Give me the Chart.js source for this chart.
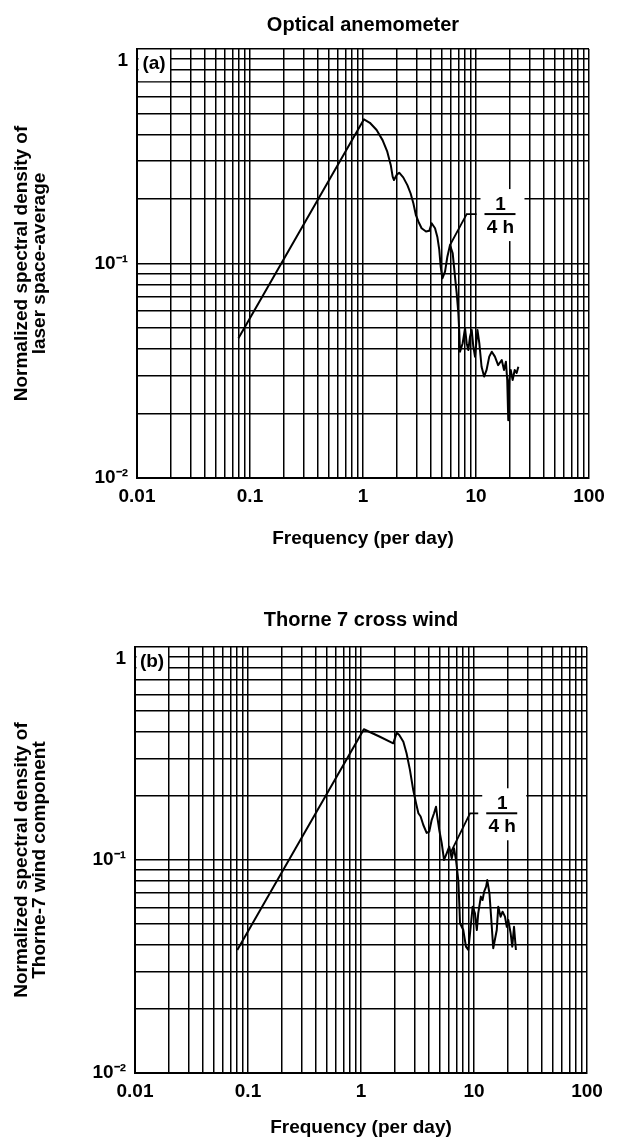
<!DOCTYPE html>
<html>
<head>
<meta charset="utf-8">
<title>Normalized spectral density</title>
<script src="https://cdn.jsdelivr.net/npm/chart.js@4.4.1/dist/chart.umd.min.js"></script>
<style>
  html, body { margin: 0; padding: 0; background: #fff; }
  canvas { display: block; }
</style>
</head>
<body>
<canvas id="panelA" width="619" height="550"></canvas>
<canvas id="panelB" width="619" height="587"></canvas>
<script>
// values: frequency (per day) and normalized spectral density
const freqA = [0.079, 1.02, 1.15, 1.32, 1.49, 1.64, 1.76, 1.83, 1.88, 1.99, 2.09, 2.27, 2.47, 2.64, 2.79, 2.94,
  3.09, 3.30, 3.61, 3.86, 4.05, 4.34, 4.55, 4.73, 4.87, 5.04, 5.32, 5.58, 5.89, 6.22, 6.39, 6.56, 6.75, 6.98,
  7.12, 7.22, 7.62, 8.0, 8.27, 8.55, 8.85, 9.16, 9.47, 9.80, 10.3, 10.7, 11.2, 11.8, 12.4, 13.1, 13.8, 14.7,
  15.7, 16.9, 17.7, 18.4, 18.9, 19.3, 19.7, 20.3, 21.1, 22.0, 22.9, 23.7];
const specA = [0.0448, 0.470, 0.453, 0.419, 0.376, 0.332, 0.288, 0.254, 0.245, 0.259, 0.265, 0.252, 0.232, 0.212, 0.191, 0.168,
  0.157, 0.146, 0.141, 0.142, 0.154, 0.146, 0.133, 0.116, 0.0966, 0.0853, 0.0916, 0.1076, 0.122, 0.1115, 0.0966, 0.0838, 0.0726, 0.0586,
  0.0473, 0.0388, 0.0425, 0.0499, 0.0425, 0.0395, 0.0456, 0.049, 0.041, 0.0368, 0.049, 0.0425, 0.033, 0.0297, 0.0319, 0.0368, 0.0388, 0.0368,
  0.0336, 0.0355, 0.0319, 0.0348, 0.0286, 0.0186, 0.0286, 0.0319, 0.0286, 0.0319, 0.0309, 0.033];

const freqB = [0.0804, 1.06, 1.47, 1.93, 2.07, 2.18, 2.37, 2.53, 2.71, 2.90, 3.07, 3.22, 3.37, 3.56, 3.81, 4.02,
  4.22, 4.43, 4.61, 4.73, 4.93, 5.18, 5.43, 5.73, 6.04, 6.35, 6.65, 6.93, 7.26, 7.41, 7.52, 8.04, 8.49, 8.91,
  9.22, 9.73, 10.2, 10.6, 10.9, 11.5, 11.9, 12.3, 12.8, 13.1, 13.7, 14.3, 14.8, 15.9, 16.4, 17.2, 17.9, 18.8,
  19.5, 20.1, 21.1, 21.8, 22.6, 23.5];
const specB = [0.0378, 0.411, 0.379, 0.353, 0.396, 0.386, 0.359, 0.317, 0.265, 0.213, 0.1846, 0.1657, 0.160, 0.146, 0.134, 0.136,
  0.154, 0.1657, 0.178, 0.160, 0.138, 0.120, 0.100, 0.1075, 0.1155, 0.102, 0.1135, 0.100, 0.0805, 0.0626, 0.0505, 0.0469, 0.0392, 0.0378,
  0.0453, 0.0604, 0.0562, 0.0469, 0.0562, 0.0673, 0.0649, 0.071, 0.075, 0.0805, 0.0698, 0.0505, 0.0385, 0.0469, 0.0604, 0.0542, 0.0572, 0.0542,
  0.0486, 0.0523, 0.0453, 0.0392, 0.0486, 0.0378];

// leader lines pointing at the 1/4 h (6 per day) frequency
const markFreqA = [5.89, 8.27, 10.1];
const markSpecA = [0.122, 0.170, 0.170];
const markFreqB = [6.2, 9.22, 10.9];
const markSpecB = [0.108, 0.1657, 0.1657];

// axes
const xMajor = [0.01, 0.1, 1, 10, 100];
const xTickLabels = ['0.01', '0.1', '1', '10', '100'];
const yMajor = [0.01, 0.1, 1];
const yTickLabels = ['10⁻²', '10⁻¹', ['', '1']];  // top label sits just under the frame line
const minorSteps = [1, 2, 3, 4, 5, 6, 7, 8, 9];

const FONT = "'Liberation Sans', Arial, sans-serif";
Chart.defaults.font.family = FONT;
Chart.defaults.color = '#000';

function gridValues(majors) {
  const out = [];
  for (let i = 0; i < majors.length - 1; i++) {
    minorSteps.forEach(m => out.push(m * majors[i]));
  }
  out.push(majors[majors.length - 1]);
  return out;
}

function labelFor(v, majors, labels) {
  const i = majors.findIndex(m => Math.abs(v / m - 1) < 1e-6);
  return i < 0 ? '' : labels[i];
}

const xGrid = gridValues(xMajor);
const yGrid = gridValues(yMajor);

// panel letter and the 1/4 h fraction, placed through the scales
const annotate = {
  id: 'annotate',
  beforeDatasetsDraw(chart, args, opts) {
    const { ctx, chartArea: a, scales: { x, y } } = chart;
    ctx.save();
    const bx = x.getPixelForValue(0.02);
    const by = y.getPixelForValue(0.7);
    ctx.fillStyle = '#fff';
    ctx.fillRect(a.left + 1.5, a.top + 1.5, bx - a.left - 2.5, by - a.top - 2.5);
    ctx.fillStyle = '#000';
    ctx.font = 'bold 19px ' + FONT;
    ctx.textAlign = 'center';
    ctx.textBaseline = 'middle';
    ctx.fillText(opts.letter, (a.left + bx) / 2, a.top + 15);

    const n = opts.markF.length - 1;
    const ex = x.getPixelForValue(opts.markF[n]);
    const ey = y.getPixelForValue(opts.markS[n]);
    ctx.fillStyle = '#fff';
    ctx.fillRect(ex + 4, ey - 25, 44, 52);
    ctx.strokeStyle = '#000';
    ctx.lineWidth = 2;
    ctx.beginPath();
    ctx.moveTo(ex + 8, ey);
    ctx.lineTo(ex + 39, ey);
    ctx.stroke();
    ctx.fillStyle = '#000';
    ctx.textBaseline = 'alphabetic';
    ctx.fillText('1', ex + 24, ey - 4);
    ctx.textBaseline = 'top';
    ctx.fillText('4 h', ex + 24, ey + 4);
    ctx.restore();
  }
};

function toPoints(fs, ss) {
  return fs.map((f, i) => ({ x: f, y: ss[i] }));
}

function makePanel(id, p) {
  return new Chart(document.getElementById(id), {
    type: 'line',
    data: {
      datasets: [
        { data: toPoints(p.freq, p.spec), borderColor: '#000', borderWidth: 2, pointRadius: 0, tension: 0, borderJoinStyle: 'round' },
        { data: toPoints(p.markF, p.markS), borderColor: '#000', borderWidth: 1.8, pointRadius: 0, tension: 0 }
      ]
    },
    options: {
      responsive: false,
      animation: false,
      devicePixelRatio: 1,
      layout: { padding: { left: 0, right: p.padRight, top: 0, bottom: 0 } },
      plugins: {
        legend: { display: false },
        tooltip: { enabled: false },
        title: {
          display: true, text: p.title, fullSize: false, color: '#000',
          font: { size: 20, weight: 'bold', lineHeight: 1.2 },
          padding: { top: p.titleTop, bottom: p.titleBottom }
        },
        annotate: { letter: p.letter, markF: p.markF, markS: p.markS }
      },
      scales: {
        x: {
          type: 'logarithmic', min: 0.01, max: 100,
          afterBuildTicks: s => { s.ticks = xGrid.map(v => ({ value: v })); },
          afterFit: s => { s.height = p.xHeight; },
          grid: { color: '#000', lineWidth: 1.5, drawTicks: false },
          border: { color: '#000', width: 2 },
          ticks: {
            callback: v => labelFor(v, xMajor, xTickLabels),
            autoSkip: false, maxRotation: 0, minRotation: 0, padding: 7,
            color: '#000', font: { size: 19, weight: 'bold' }
          },
          title: {
            display: true, text: 'Frequency (per day)', color: '#000',
            font: { size: 19, weight: 'bold', lineHeight: 1 },
            padding: { top: 0, bottom: p.xTitlePad }
          }
        },
        y: {
          type: 'logarithmic', min: 0.01, max: 1,
          afterBuildTicks: s => { s.ticks = yGrid.map(v => ({ value: v })); },
          afterFit: s => { s.width = p.yWidth; },
          grid: { color: '#000', lineWidth: 1.5, drawTicks: false },
          border: { color: '#000', width: 2 },
          ticks: {
            callback: v => labelFor(v, yMajor, yTickLabels),
            autoSkip: false, padding: 9,
            color: '#000', font: { size: 19, weight: 'bold' }
          },
          title: {
            display: true, text: p.yTitle, color: '#000',
            font: { size: 19, weight: 'bold', lineHeight: 0.95 },
            padding: { top: 13, bottom: 0 }
          }
        }
      }
    },
    plugins: [annotate]
  });
}

makePanel('panelA', {
  freq: freqA, spec: specA, markF: markFreqA, markS: markSpecA,
  title: 'Optical anemometer', letter: '(a)',
  yTitle: ['Normalized spectral density of', 'laser space-average'],
  padRight: 30, titleTop: 13, titleBottom: 12, xHeight: 72, xTitlePad: 2, yWidth: 137
});

makePanel('panelB', {
  freq: freqB, spec: specB, markF: markFreqB, markS: markSpecB,
  title: 'Thorne 7 cross wind', letter: '(b)',
  yTitle: ['Normalized spectral density of', 'Thorne-7 wind component'],
  padRight: 32, titleTop: 58, titleBottom: 15, xHeight: 64, xTitlePad: 0, yWidth: 135
});
</script>
</body>
</html>
